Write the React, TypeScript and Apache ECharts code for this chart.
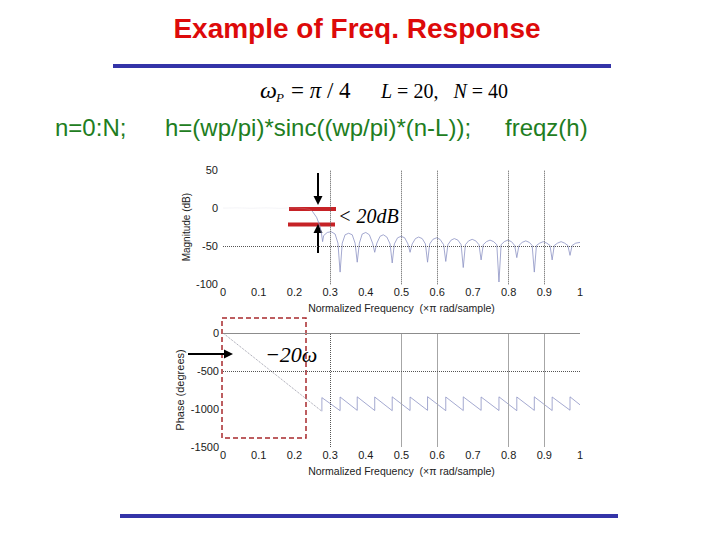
import React, { useEffect, useRef } from "react";
import * as echarts from "echarts";

// Magnitude response (normalized frequency, dB)
const magFreq = [
  0, 0.04, 0.08, 0.12, 0.16, 0.2, 0.225, 0.24, 0.25,
  0.262, 0.272, 0.276, 0.279, 0.282, 0.292, 0.303, 0.314, 0.322, 0.328, 0.334,
  0.342, 0.352, 0.362, 0.37, 0.376, 0.382, 0.39, 0.4, 0.41, 0.419, 0.425, 0.431,
  0.44, 0.449, 0.459, 0.468, 0.474, 0.48, 0.489, 0.499, 0.509, 0.518, 0.524, 0.53,
  0.539, 0.548, 0.558, 0.567, 0.573, 0.579, 0.588, 0.598, 0.608, 0.618, 0.624, 0.63,
  0.639, 0.648, 0.658, 0.667, 0.673, 0.679, 0.688, 0.698, 0.708, 0.717, 0.723, 0.729,
  0.738, 0.748, 0.758, 0.767, 0.773, 0.779, 0.788, 0.798, 0.808, 0.817, 0.823, 0.829,
  0.838, 0.848, 0.858, 0.866, 0.872, 0.878, 0.887, 0.897, 0.907, 0.916, 0.922, 0.928,
  0.937, 0.947, 0.957, 0.966, 0.972, 0.978, 0.988, 1.0,
];
const magDb = [
  0, 0.3, -0.2, 0.3, -0.3, 0.4, -0.4, -1.5, -4,
  -12, -24, -34, -44, -36, -32, -31, -34, -46, -84, -46,
  -35, -33, -35, -46, -71, -46, -34, -32, -35, -46, -58, -46,
  -37, -35, -38, -47, -72, -47, -39, -37, -39, -47, -58, -47,
  -40, -38, -40, -47, -71, -47, -41, -39, -41, -48, -70, -48,
  -42, -40, -42, -48, -78, -48, -43, -41, -43, -48, -68, -48,
  -44, -42, -44, -48, -97, -48, -44, -42, -44, -49, -65, -49,
  -45, -43, -45, -49, -84, -49, -46, -44, -46, -49, -68, -49,
  -46, -44, -46, -49, -62, -49, -46, -45,
];
const passbandEdge = 0.25;

// Phase response (normalized frequency, degrees)
const phaseFreq = [
  0, 0.277, 0.277, 0.328, 0.328, 0.376, 0.376, 0.425, 0.425, 0.474, 0.474,
  0.524, 0.524, 0.573, 0.573, 0.624, 0.624, 0.673, 0.673, 0.723, 0.723,
  0.773, 0.773, 0.823, 0.823, 0.872, 0.872, 0.922, 0.922, 0.972, 0.972, 1.0,
];
const phaseDeg = [
  0, -1030, -850, -1022, -842, -1018, -840, -1020, -842, -1022, -840,
  -1020, -842, -1018, -838, -1022, -842, -1020, -840, -1018, -842,
  -1020, -840, -1022, -842, -1018, -840, -1020, -842, -1016, -840, -945,
];

// Grid lines that remain visible in the scanned picture
const magGridX = [0.3, 0.5, 0.6, 0.8, 0.9];
const magGridY = [-50];
const phaseGridDottedX = [0.3];
const phaseGridSolidX = [0.5, 0.6, 0.8, 0.9];
const phaseGridSolidY = [0];
const phaseGridDottedY = [-500];

// Axis ranges / ticks
const freqMin = 0, freqMax = 1, freqStep = 0.1;
const magMin = -100, magMax = 50, magStep = 50;
const phaseMin = -1500, phaseMax = 0, phaseStep = 500;

const SANS = "'Liberation Sans', Arial, sans-serif";
const SERIF = "'Liberation Serif', 'Times New Roman', serif";

export default function App() {
  const ref = useRef<HTMLDivElement>(null);
  useEffect(() => {
    const chart = echarts.init(ref.current!, null, { renderer: "svg" });
    const magPts = magFreq.map((f, i) => [f, magDb[i]]);
    const phPts = phaseFreq.map((f, i) => [f, phaseDeg[i]]);
    const curveColor = "#8d93c4";
    const dotted = { type: "dotted" as const, color: "#555", width: 1 };
    const solid = { type: "solid" as const, color: "#a6a6a6", width: 1 };
    const plain = (v: number) => String(v);

    const xAxisBase = {
      type: "value" as const,
      min: freqMin,
      max: freqMax,
      interval: freqStep,
      axisLine: { show: false },
      axisTick: { show: false },
      splitLine: { show: false },
      axisLabel: { color: "#1a1a1a", fontSize: 11, fontFamily: SANS, margin: 2 },
      name: "Normalized Frequency  (\u00d7\u03c0 rad/sample)",
      nameLocation: "middle" as const,
      nameGap: 18,
      nameTextStyle: { color: "#222", fontSize: 10.5, fontFamily: SANS },
    };

    const arrow = (x1: number, y1: number, x2: number, y2: number) => {
      const dx = x2 - x1, dy = y2 - y1;
      const len = Math.hypot(dx, dy);
      const ux = dx / len, uy = dy / len;
      const hl = 9, hw = 4.5;
      const bx = x2 - ux * hl, by = y2 - uy * hl;
      return [
        { type: "line", shape: { x1, y1, x2: bx, y2: by }, style: { stroke: "#000", lineWidth: 2 } },
        {
          type: "polygon",
          shape: { points: [[x2, y2], [bx - uy * hw, by + ux * hw], [bx + uy * hw, by - ux * hw]] },
          style: { fill: "#000" },
        },
      ];
    };

    const option: any = {
      animation: false,
      backgroundColor: "#fff",
      grid: [
        { left: 223, top: 170, width: 357, height: 114.3 },
        { left: 223, top: 333, width: 357, height: 114 },
      ],
      xAxis: [
        { ...xAxisBase, gridIndex: 0 },
        { ...xAxisBase, gridIndex: 1 },
      ],
      yAxis: [
        {
          type: "value",
          gridIndex: 0,
          min: magMin,
          max: magMax,
          interval: magStep,
          axisLine: { show: false },
          axisTick: { show: false },
          splitLine: { show: false },
          axisLabel: { color: "#1a1a1a", fontSize: 11, fontFamily: SANS, margin: 5, formatter: plain },
          name: "Magnitude (dB)",
          nameLocation: "middle",
          nameGap: 32,
          nameTextStyle: { color: "#222", fontSize: 10, fontFamily: SANS },
        },
        {
          type: "value",
          gridIndex: 1,
          min: phaseMin,
          max: phaseMax,
          interval: phaseStep,
          axisLine: { show: false },
          axisTick: { show: false },
          splitLine: { show: false },
          axisLabel: { color: "#1a1a1a", fontSize: 11, fontFamily: SANS, margin: 4, formatter: plain },
          name: "Phase (degrees)",
          nameLocation: "middle",
          nameGap: 38,
          nameTextStyle: { color: "#222", fontSize: 11, fontFamily: SANS },
        },
      ],
      series: [
        {
          name: "grid-mag",
          type: "line",
          xAxisIndex: 0,
          yAxisIndex: 0,
          data: [],
          silent: true,
          markLine: {
            silent: true,
            symbol: ["none", "none"],
            label: { show: false },
            lineStyle: dotted,
            data: [
              ...magGridX.map((v) => ({ xAxis: v })),
              ...magGridY.map((v) => ({ yAxis: v })),
            ],
          },
        },
        {
          name: "grid-phase",
          type: "line",
          xAxisIndex: 1,
          yAxisIndex: 1,
          data: [],
          silent: true,
          markLine: {
            silent: true,
            symbol: ["none", "none"],
            label: { show: false },
            data: [
              ...phaseGridDottedX.map((v) => ({ xAxis: v, lineStyle: dotted })),
              ...phaseGridSolidX.map((v) => ({ xAxis: v, lineStyle: solid })),
              ...phaseGridSolidY.map((v) => ({ yAxis: v, lineStyle: { ...solid, color: "#8c8c8c" } })),
              ...phaseGridDottedY.map((v) => ({ yAxis: v, lineStyle: dotted })),
            ],
          },
        },
        {
          name: "mag-pass",
          type: "line",
          xAxisIndex: 0,
          yAxisIndex: 0,
          showSymbol: false,
          data: magPts.filter((p) => p[0] <= passbandEdge),
          lineStyle: { color: "#c8c8d8", width: 1, opacity: 0.2 },
        },
        {
          name: "mag-stop",
          type: "line",
          xAxisIndex: 0,
          yAxisIndex: 0,
          showSymbol: false,
          data: magPts.filter((p) => p[0] >= passbandEdge),
          lineStyle: { color: curveColor, width: 0.8 },
        },
        {
          name: "phase-linear",
          type: "line",
          xAxisIndex: 1,
          yAxisIndex: 1,
          showSymbol: false,
          data: phPts.slice(0, 2),
          lineStyle: { color: "#9a9aa8", width: 1, type: "dotted" },
        },
        {
          name: "phase-saw",
          type: "line",
          xAxisIndex: 1,
          yAxisIndex: 1,
          showSymbol: false,
          data: phPts.slice(1),
          lineStyle: { color: curveColor, width: 0.8 },
        },
      ],
      graphic: [
        {
          type: "text",
          x: 357,
          y: 28,
          style: {
            text: "Example of Freq. Response",
            fill: "#dd0a0a",
            font: `bold 28px ${SANS}`,
            align: "center",
            verticalAlign: "middle",
          },
        },
        { type: "rect", shape: { x: 113, y: 64, width: 498, height: 4 }, style: { fill: "#3434a8" } },
        { type: "rect", shape: { x: 120, y: 514, width: 498, height: 4 }, style: { fill: "#3434a8" } },
        {
          type: "text",
          x: 260,
          y: 90,
          style: { text: "\u03c9", fill: "#000", font: `italic 24px ${SERIF}`, align: "left", verticalAlign: "middle" },
        },
        {
          type: "text",
          x: 276,
          y: 97,
          style: { text: "P", fill: "#000", font: `italic 13px ${SERIF}`, align: "left", verticalAlign: "middle" },
        },
        {
          type: "text",
          x: 291,
          y: 90,
          style: {
            text: "= {i|\u03c0} / 4",
            fill: "#000",
            font: `23px ${SERIF}`,
            align: "left",
            verticalAlign: "middle",
            rich: { i: { fontStyle: "italic", fontSize: 23, fontFamily: SERIF, fill: "#000" } },
          },
        },
        {
          type: "text",
          x: 381,
          y: 91,
          style: {
            text: "{i|L} = 20,   {i|N} = 40",
            fill: "#000",
            font: `20px ${SERIF}`,
            align: "left",
            verticalAlign: "middle",
            rich: { i: { fontStyle: "italic", fontSize: 20, fontFamily: SERIF, fill: "#000" } },
          },
        },
        {
          type: "text",
          x: 55,
          y: 127,
          style: { text: "n=0:N;", fill: "#217d21", font: `24px ${SANS}`, align: "left", verticalAlign: "middle" },
        },
        {
          type: "text",
          x: 165,
          y: 127,
          style: {
            text: "h=(wp/pi)*sinc((wp/pi)*(n-L));",
            fill: "#217d21",
            font: `24px ${SANS}`,
            align: "left",
            verticalAlign: "middle",
          },
        },
        {
          type: "text",
          x: 505,
          y: 127,
          style: { text: "freqz(h)", fill: "#217d21", font: `24px ${SANS}`, align: "left", verticalAlign: "middle" },
        },
        // magnitude annotation
        { type: "rect", shape: { x: 289, y: 207, width: 47, height: 4 }, style: { fill: "#c62226" } },
        { type: "rect", shape: { x: 288, y: 222.5, width: 47, height: 4 }, style: { fill: "#c62226" } },
        ...arrow(318, 173, 318, 205),
        ...arrow(318, 253, 318, 224),
        {
          type: "text",
          x: 338,
          y: 216,
          style: { text: "< 20dB", fill: "#000", font: `italic 20px ${SERIF}`, align: "left", verticalAlign: "middle" },
        },
        // phase annotation
        {
          type: "rect",
          shape: { x: 222, y: 318, width: 84, height: 120 },
          style: { fill: "none", stroke: "#a8282c", lineWidth: 1.5, lineDash: [5, 3] },
        },
        ...arrow(188, 354, 233, 354),
        {
          type: "text",
          x: 265,
          y: 354,
          style: { text: "\u221220\u03c9", fill: "#000", font: `italic 22px ${SERIF}`, align: "left", verticalAlign: "middle" },
        },
      ],
    };
    chart.setOption(option);
    return () => chart.dispose();
  }, []);
  return (
    <div
      ref={ref}
      style={{ position: "fixed", left: 0, top: 0, width: 720, height: 540, background: "#fff" }}
    />
  );
}
